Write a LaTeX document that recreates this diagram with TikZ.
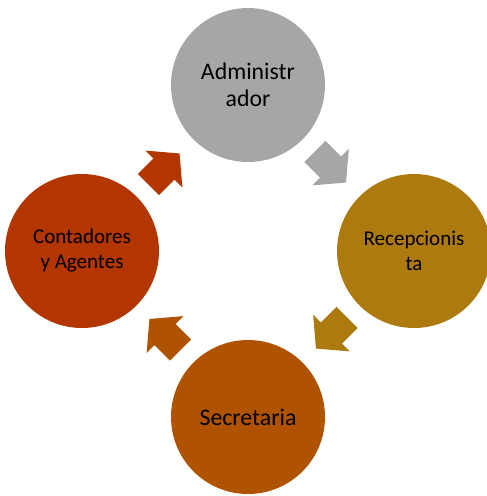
\documentclass[tikz,border=0pt]{standalone}
\usepackage{fontspec}
\setmainfont{Carlito}
\definecolor{cgray}{HTML}{A6A6A6}
\definecolor{cgold}{HTML}{AD7A10}
\definecolor{corange}{HTML}{B05300}
\definecolor{cred}{HTML}{B33500}
\tikzset{
  roundbox/.style={circle, minimum size=154pt, inner sep=0pt, align=center,
    font=\fontsize{21}{25}\selectfont, text=black},
  bigtext/.style={font=\fontsize{23.8}{27}\selectfont},
  blockarrow/.pic={
    \fill[pic actions] (-22,-15) -- (0,-15) -- (0,-26) -- (22,0) -- (0,26) -- (0,15) -- (-22,15) -- cycle;
  }
}
\begin{document}
\begin{tikzpicture}[x=1pt,y=1pt]
\useasboundingbox (0,0) rectangle (487,-496);
\node[roundbox, bigtext, fill=cgray] (adm) at (248,-85)  {Administr\\ador};
\node[roundbox, fill=cgold]          (rec) at (414,-251) {Recepcionis\\ta};
\node[roundbox, bigtext, fill=corange] (sec) at (248,-417) {Secretaria};
\node[roundbox, fill=cred]           (con) at (82,-251)  {Contadores\\y Agentes};
\pic[fill=cgray]   at (330.5,-167) [rotate=-45]  {blockarrow};
\pic[fill=cgold]   at (331.5,-333) [rotate=-135] {blockarrow};
\pic[fill=corange] at (165,-334.5) [rotate=135]  {blockarrow};
\pic[fill=cred]    at (164,-169)   [rotate=45]   {blockarrow};
\end{tikzpicture}
\end{document}
